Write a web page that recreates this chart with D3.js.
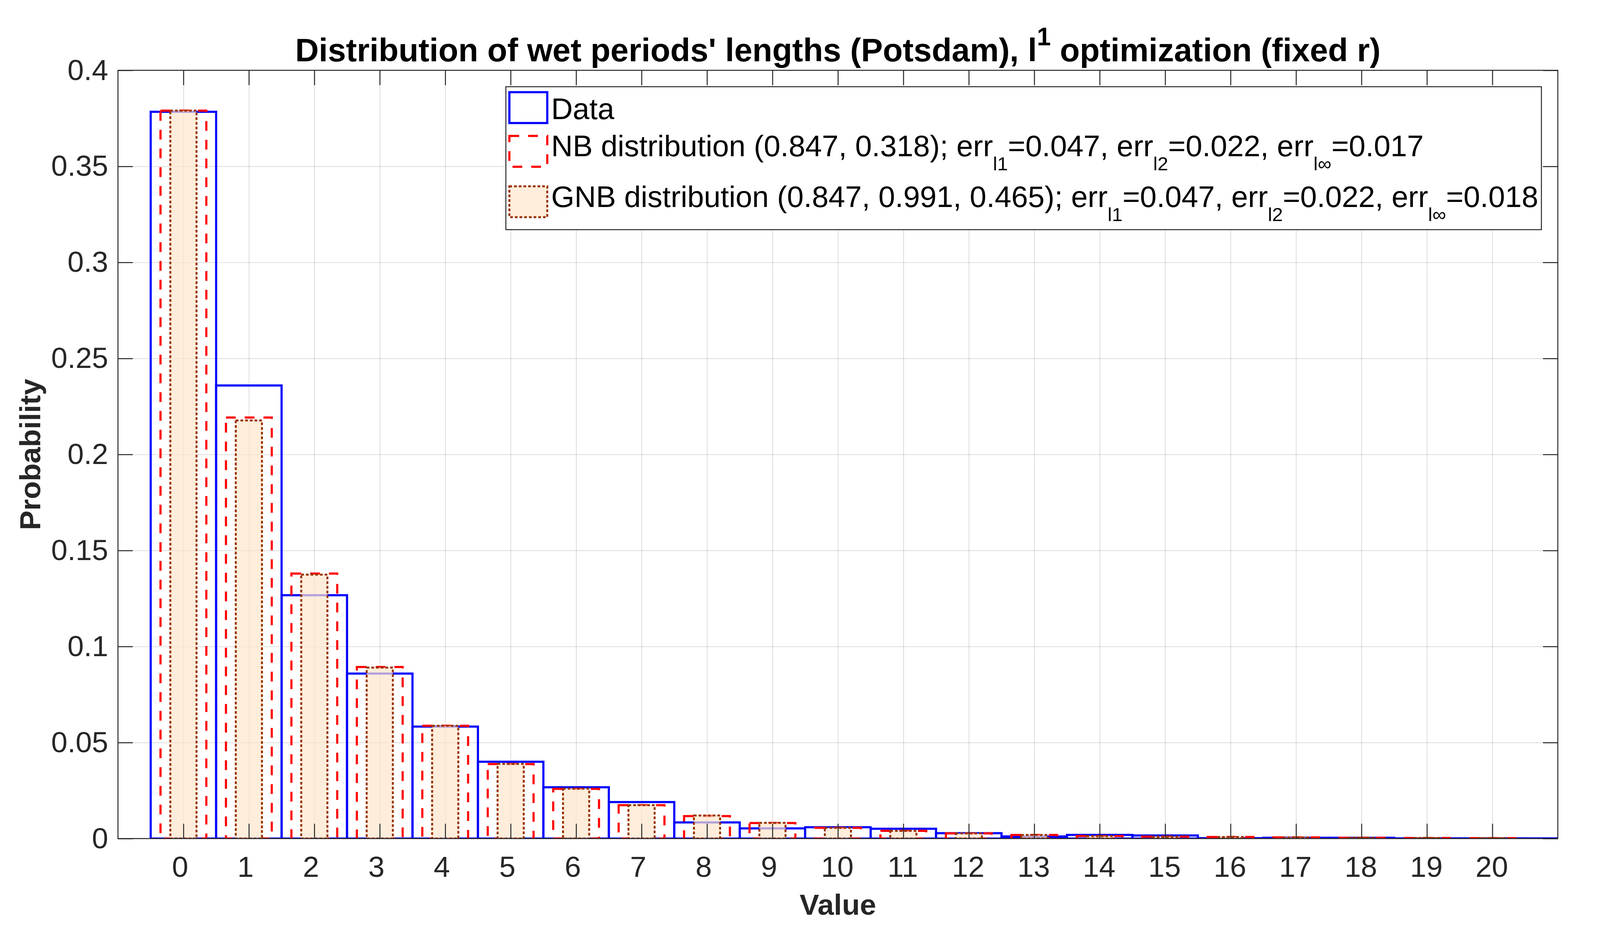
<!DOCTYPE html>
<html>
<head>
<meta charset="utf-8">
<script src="https://cdn.jsdelivr.net/npm/d3@7"></script>
<style>
  html, body { margin: 0; padding: 0; background: #ffffff; }
  svg { display: block; }
  text { font-family: "Liberation Sans", Arial, Helvetica, sans-serif; }
</style>
</head>
<body>
<svg id="chart" width="4116" height="2376"></svg>
<script>
// ---------------- data ----------------
const dataValues = [0.3784, 0.2359, 0.1267, 0.0859, 0.0583, 0.0400, 0.0267, 0.0190,
  0.0084, 0.0053, 0.0059, 0.0051, 0.0028, 0.0011, 0.0019, 0.0016, 0.0002, 0.0004,
  0.0004, 0.0001, 0.0001, 0.0001];
const nbValues = [0.3790, 0.2192, 0.1380, 0.0893, 0.0587, 0.0388, 0.0259, 0.0174,
  0.0117, 0.0081, 0.0056, 0.0040, 0.0027, 0.0019, 0.0013, 0.0010, 0.0008, 0.0006,
  0.0004, 0.0003, 0.0002];
const gnbValues = [0.3790, 0.2177, 0.1374, 0.0890, 0.0587, 0.0389, 0.0260, 0.0174,
  0.0120, 0.0082, 0.0056, 0.0040, 0.0027, 0.0019, 0.0013, 0.0010, 0.0008, 0.0006,
  0.0004, 0.0003, 0.0002];
const xTicks = [0,1,2,3,4,5,6,7,8,9,10,11,12,13,14,15,16,17,18,19,20];
const yTicks = [0, 0.05, 0.1, 0.15, 0.2, 0.25, 0.3, 0.35, 0.4];
const yTickLabels = ["0", "0.05", "0.1", "0.15", "0.2", "0.25", "0.3", "0.35", "0.4"];
const xDomain = [-1, 21];
const yDomain = [0, 0.4];
const titleMain = "Distribution of wet periods' lengths (Potsdam), l";
const titleSup = "1";
const titleEnd = " optimization (fixed r)";
const xLabel = "Value";
const yLabel = "Probability";
const legendRows = [
  [{t: "Data"}],
  [{t: "NB distribution (0.847, 0.318); err"}, {t: "l1", sub: true}, {t: "=0.047, err"},
   {t: "l2", sub: true}, {t: "=0.022, err"}, {t: "l\u221E", sub: true}, {t: "=0.017"}],
  [{t: "GNB distribution (0.847, 0.991, 0.465); err"}, {t: "l1", sub: true}, {t: "=0.047, err"},
   {t: "l2", sub: true}, {t: "=0.022, err"}, {t: "l\u221E", sub: true}, {t: "=0.018"}]
];

// ---------------- layout ----------------
const L = 302, R = 3988, T = 180, B = 2147;
const axisColor = "#262626";
const blue = "#0000ff", red = "#ff0000", brown = "#993300", beige = "rgb(255,230,204)";

const svg = d3.select("#chart");
svg.append("rect").attr("width", 4116).attr("height", 2376).attr("fill", "#fff");

const x = d3.scaleLinear().domain(xDomain).range([L, R]);
const y = d3.scaleLinear().domain(yDomain).range([B, T]);

svg.append("defs").append("clipPath").attr("id", "plotclip")
  .append("rect").attr("x", L).attr("y", T).attr("width", R - L).attr("height", B - T);

// grid
const grid = svg.append("g").attr("class", "grid");
grid.append("g").attr("transform", `translate(0,${B})`)
  .call(d3.axisBottom(x).tickValues(xTicks).tickSize(-(B - T)).tickFormat(""));
grid.append("g").attr("transform", `translate(${L},0)`)
  .call(d3.axisLeft(y).tickValues(yTicks).tickSize(-(R - L)).tickFormat(""));
grid.selectAll(".domain").remove();
grid.selectAll("line").attr("stroke", "rgb(38,38,38)").attr("stroke-opacity", 0.15).attr("stroke-width", 2.2);

// bars
const plot = svg.append("g").attr("clip-path", "url(#plotclip)");
function bars(values, width, cls) {
  return plot.append("g").attr("class", cls).selectAll("rect")
    .data(values).join("rect")
    .attr("x", (d, i) => x(i - width / 2))
    .attr("width", (d, i) => x(i + width / 2) - x(i - width / 2))
    .attr("y", d => y(d))
    .attr("height", d => y(0) - y(d));
}
bars(dataValues, 1.0, "data").attr("fill", "none").attr("stroke", blue).attr("stroke-width", 5.5);
bars(nbValues, 0.7, "nb").attr("fill", "none").attr("stroke", red).attr("stroke-width", 5.5)
  .attr("stroke-dasharray", "25,23");
bars(gnbValues, 0.4, "gnb").attr("fill", beige).attr("fill-opacity", 0.7)
  .attr("stroke", brown).attr("stroke-width", 5).attr("stroke-dasharray", "7,5");

// axes (ticks inside, box)
const tickLen = 38;
const fs = 74;
const ax = svg.append("g").attr("class", "axes");
const gx = ax.append("g").attr("transform", `translate(0,${B})`)
  .call(d3.axisBottom(x).tickValues(xTicks).tickSizeInner(-tickLen).tickSizeOuter(0).tickPadding(45)
    .tickFormat(d3.format("d")));
gx.selectAll(".tick text").attr("dx", d => (d < 10 ? -9 : -2));
const gy = ax.append("g").attr("transform", `translate(${L},0)`)
  .call(d3.axisLeft(y).tickValues(yTicks).tickSizeInner(-tickLen).tickSizeOuter(0).tickPadding(25)
    .tickFormat((d, i) => yTickLabels[i]));
const gxt = ax.append("g").attr("transform", `translate(0,${T})`)
  .call(d3.axisTop(x).tickValues(xTicks).tickSizeInner(-tickLen).tickSizeOuter(0).tickFormat(""));
const gyr = ax.append("g").attr("transform", `translate(${R},0)`)
  .call(d3.axisRight(y).tickValues(yTicks).tickSizeInner(-tickLen).tickSizeOuter(0).tickFormat(""));
ax.selectAll(".domain").remove();
ax.selectAll(".tick line").attr("stroke", axisColor).attr("stroke-width", 2.5);
ax.selectAll(".tick text").attr("fill", axisColor).attr("font-size", 75)
  .attr("font-family", "'Liberation Sans', Arial, sans-serif");
ax.append("rect").attr("x", L).attr("y", T).attr("width", R - L).attr("height", B - T)
  .attr("fill", "none").attr("stroke", axisColor).attr("stroke-width", 2.5);

// axis labels
svg.append("text").attr("x", (L + R) / 2).attr("y", 2342).attr("text-anchor", "middle")
  .attr("font-size", 75).attr("font-weight", "bold").attr("fill", axisColor).text(xLabel);
svg.append("text").attr("transform", `translate(103,${(T + B) / 2}) rotate(-90)`)
  .attr("text-anchor", "middle").attr("font-size", 75).attr("font-weight", "bold")
  .attr("fill", axisColor).text(yLabel);

// title
const title = svg.append("text").attr("x", (L + R) / 2).attr("y", 157).attr("text-anchor", "middle")
  .attr("font-size", 83.5).attr("font-weight", "bold").attr("fill", "#000");
title.append("tspan").text(titleMain);
title.append("tspan").attr("font-size", 64).attr("dy", -41).text(titleSup);
title.append("tspan").attr("dy", 41).text(titleEnd);

// legend
const lg = svg.append("g").attr("class", "legend");
lg.append("rect").attr("x", 1295).attr("y", 222).attr("width", 3946 - 1295).attr("height", 588 - 222)
  .attr("fill", "#fff").attr("stroke", axisColor).attr("stroke-width", 2.5);
const iconY = [236, 348, 477];
const baseY = [305, 400, 530];
const iconStyles = [
  {fill: "none", stroke: blue, w: 5.5, dash: null, op: 1},
  {fill: "none", stroke: red, w: 5.5, dash: "25,23", op: 1},
  {fill: beige, stroke: brown, w: 5, dash: "7,5", op: 0.7}
];
legendRows.forEach((row, i) => {
  const s = iconStyles[i];
  lg.append("rect").attr("x", 1304).attr("y", iconY[i]).attr("width", 97).attr("height", 79)
    .attr("fill", s.fill).attr("fill-opacity", s.op).attr("stroke", s.stroke)
    .attr("stroke-width", s.w).attr("stroke-dasharray", s.dash);
  const t = lg.append("text").attr("x", 1411).attr("y", baseY[i]).attr("font-size", 76.5).attr("fill", "#000");
  let down = false;
  row.forEach(p => {
    const sp = t.append("tspan").text(p.t);
    if (p.sub) { sp.attr("font-size", 49).attr("dy", 36); down = true; }
    else if (down) { sp.attr("dy", -36); down = false; }
  });
});
</script>
</body>
</html>
